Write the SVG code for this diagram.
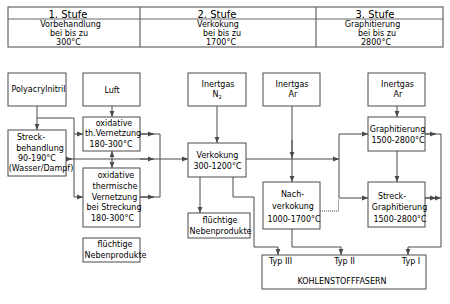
<svg xmlns="http://www.w3.org/2000/svg" width="450" height="304" viewBox="0 0 450 304">
<style>
text{font-family:"DejaVu Sans",sans-serif;font-size:8px;fill:#000;text-anchor:middle}
.h{font-size:10px}
.box{fill:#fff;stroke:#4a4a4a;stroke-width:1}
.tab{fill:#fff;stroke:#666;stroke-width:1.2}
.c{fill:none;stroke:#4a4a4a;stroke-width:1}
.a{fill:none;stroke:#4a4a4a;stroke-width:1;marker-end:url(#ah)}
.d{fill:none;stroke:#4a4a4a;stroke-width:1;stroke-dasharray:1,1}
</style>
<defs>
<marker id="ah" viewBox="0 0 6 6" refX="6" refY="3" markerWidth="6" markerHeight="6" markerUnits="userSpaceOnUse" orient="auto">
<path d="M0,0.6 L6,3 L0,5.4 z" fill="#4a4a4a"/>
</marker>
</defs>
<g id="header">
<rect class="tab" x="8" y="7" width="435" height="40"/>
<path class="tab" d="M8 19H443M140 7V47M316 7V47"/>
<text class="h" x="68" y="17.5">1. Stufe</text>
<text class="h" x="217" y="17.5">2. Stufe</text>
<text class="h" x="375" y="17.5">3. Stufe</text>
<text x="70.5" y="27">Vorbehandlung</text>
<text x="69" y="36">bei bis zu</text>
<text x="68.5" y="45">300°C</text>
<text x="218" y="27">Verkokung</text>
<text x="222" y="36">bei bis zu</text>
<text x="221" y="45">1700°C</text>
<text x="372.5" y="27">Graphitierung</text>
<text x="377" y="36">bei bis zu</text>
<text x="376" y="45">2800°C</text>
</g>
<g id="connectors">
<path class="a" d="M37 106V130"/>
<path class="c" d="M37 118H74V197"/>
<path class="a" d="M74 134H83"/>
<path class="a" d="M74 197H83"/>
<path class="a" d="M112 106V117"/>
<path class="a" d="M112 159V151"/>
<path class="a" d="M112 159V168"/>
<path class="a" d="M66 159H188"/>
<path class="a" d="M66 159H72"/>
<path class="a" d="M140 159H154"/>
<path class="c" d="M140 134H160V197H140"/>
<path class="a" d="M140 134H154"/>
<path class="a" d="M140 197H154"/>
<path class="a" d="M217 106V143"/>
<path class="a" d="M246 159H339"/>
<path class="c" d="M339 134V198"/>
<path class="a" d="M339 134H368"/>
<path class="a" d="M339 198H368"/>
<path class="a" d="M292 106V182"/>
<path class="a" d="M292 140V158"/>
<path class="a" d="M200 177V213"/>
<path class="a" d="M233 177V197H254V247H278V255"/>
<path class="a" d="M292 229V247H341V255"/>
<path class="d" d="M320 211H338.5V199"/>
<path class="a" d="M397 106V117"/>
<path class="a" d="M397 151V182"/>
<path class="a" d="M425 134H441V247H408V255"/>
<path class="a" d="M425 134H436"/>
<path class="a" d="M425 198H441"/>
<path class="a" d="M425 198H436"/>
</g>
<g id="polyacrylnitril">
<rect class="box" x="8" y="73" width="58" height="33"/>
<text x="38.5" y="92">Polyacrylnitril</text>
</g>
<g id="streckbehandlung">
<rect class="box" x="8" y="130" width="58" height="46"/>
<text x="31" y="140">Streck-</text>
<text x="40" y="151">behandlung</text>
<text x="37" y="161">90-190°C</text>
<text x="41" y="171">(Wasser/Dampf)</text>
</g>
<g id="luft">
<rect class="box" x="83" y="73" width="57" height="33"/>
<text x="112" y="93">Luft</text>
</g>
<g id="oxidativ1">
<rect class="box" x="83" y="117" width="57" height="34"/>
<text x="114" y="126">oxidative</text>
<text x="113" y="136">th.Vernetzung</text>
<text x="111" y="147">180-300°C</text>
</g>
<g id="oxidativ2">
<rect class="box" x="83" y="168" width="57" height="59"/>
<text x="116" y="178">oxidative</text>
<text x="115" y="189">thermische</text>
<text x="114.5" y="200">Vernetzung</text>
<text x="114" y="210">bei Streckung</text>
<text x="112.5" y="221">180-300°C</text>
</g>
<g id="nebenprodukte1">
<rect class="box" x="83" y="238" width="57" height="24"/>
<text x="115" y="247">flüchtige</text>
<text x="115.5" y="258">Nebenprodukte</text>
</g>
<g id="inertgasN2">
<rect class="box" x="188" y="73" width="58" height="33"/>
<text x="218" y="87">Inertgas</text>
<text x="217" y="97">N<tspan font-size="5" dy="1.5">2</tspan></text>
</g>
<g id="inertgasAr1">
<rect class="box" x="263" y="73" width="57" height="33"/>
<text x="292" y="87">Inertgas</text>
<text x="293" y="97">Ar</text>
</g>
<g id="inertgasAr2">
<rect class="box" x="368" y="73" width="57" height="33"/>
<text x="397.5" y="87">Inertgas</text>
<text x="398" y="97">Ar</text>
</g>
<g id="verkokung">
<rect class="box" x="188" y="143" width="58" height="34"/>
<text x="217.5" y="158">Verkokung</text>
<text x="217.5" y="169">300-1200°C</text>
</g>
<g id="nebenprodukte2">
<rect class="box" x="188" y="213" width="62" height="25"/>
<text x="220" y="223">flüchtige</text>
<text x="220.5" y="234">Nebenprodukte</text>
</g>
<g id="nachverkokung">
<rect class="box" x="263" y="182" width="57" height="47"/>
<text x="292.5" y="197">Nach-</text>
<text x="293" y="209">verkokung</text>
<text x="294" y="222">1000-1700°C</text>
</g>
<g id="graphitierung">
<rect class="box" x="368" y="117" width="57" height="34"/>
<text x="397.5" y="132">Graphitierung</text>
<text x="398" y="143">1500-2800°C</text>
</g>
<g id="streckgraphitierung">
<rect class="box" x="368" y="182" width="57" height="45"/>
<text x="392" y="199">Streck-</text>
<text x="399.5" y="210">Graphitierung</text>
<text x="400" y="222">1500-2800°C</text>
</g>
<g id="kohlenstofffasern">
<rect class="box" x="262" y="255" width="164" height="34"/>
<text x="280.5" y="264">Typ III</text>
<text x="344.5" y="264">Typ II</text>
<text x="411" y="264">Typ I</text>
<text x="342" y="284">KOHLENSTOFFFASERN</text>
</g>
</svg>
